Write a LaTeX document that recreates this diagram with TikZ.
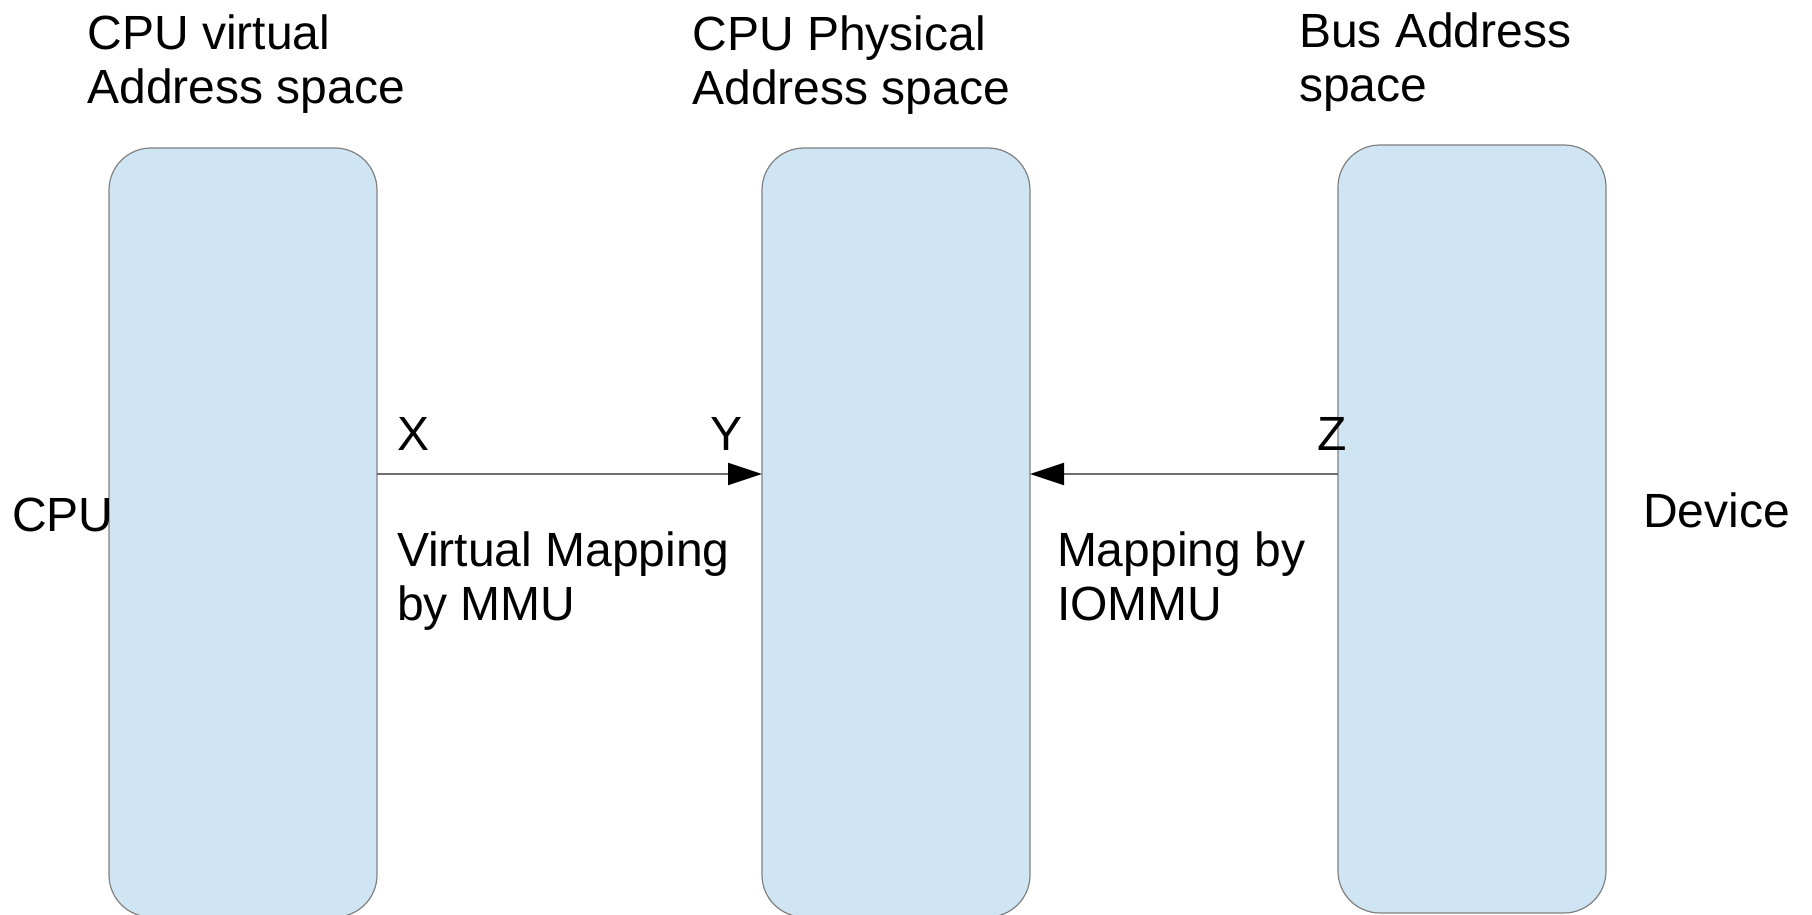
\documentclass[tikz,border=0pt]{standalone}
\usepackage{fontspec}
\setmainfont{Liberation Sans}
\usetikzlibrary{arrows.meta}
\definecolor{boxfill}{RGB}{207,229,243}
\definecolor{boxline}{RGB}{128,128,128}
\definecolor{arrline}{RGB}{110,110,110}
\newcommand\twoln[2]{\vtop{\hbox{#1}\hbox{#2}}}
\tikzset{
  spacebox/.style={draw=boxline, line width=0.6pt, fill=boxfill, rounded corners=21pt,
    minimum width=134pt, anchor=north west, inner sep=0pt, outer sep=0pt},
  title/.style={anchor=base west, inner sep=0pt, outer sep=0pt, font=\fontsize{24pt}{26.8pt}\selectfont},
  lbl/.style={anchor=base west, inner sep=0pt, outer sep=0pt, font=\fontsize{24pt}{27pt}\selectfont},
  maparrow/.style={draw=arrline, line width=1pt, -{Triangle[length=17pt,width=11pt,color=black,fill=black]}, shorten >=0pt},
}
\begin{document}
\begin{tikzpicture}[x=0.5pt,y=-0.5pt]
\useasboundingbox (0,0) rectangle (1812,915);
% boxes
\node[spacebox, minimum height=384.5pt] (b1) at (109,148) {};
\node[spacebox, minimum height=384.5pt] (b2) at (762,148) {};
\node[spacebox, minimum height=384pt] (b3) at (1338,145) {};
% titles
\node[title] (t1) at (87.5,49.5) {\twoln{CPU virtual}{Address space}};
\node[title] (t2) at (692.6,51) {\twoln{CPU Physical}{Address space}};
\node[title] (t3) at (1299,48) {\twoln{Bus Address}{space}};
% side labels
\node[lbl] (cpu) at (12,531.7) {CPU};
\node[lbl] (dev) at (1643,527.5) {Device};
% point labels
\node[lbl] (x) at (397.5,450.5) {X};
\node[lbl] (y) at (710,450.5) {Y};
\node[lbl] (z) at (1317,450) {Z};
% mapping labels
\node[lbl] (mmu) at (397,566) {\twoln{Virtual Mapping}{by MMU}};
\node[lbl] (iommu) at (1057,566) {\twoln{Mapping by}{IOMMU}};
% arrows
\coordinate (ay) at (0,474);
\draw[maparrow] (b1.east |- ay) -- (b2.west |- ay);
\draw[maparrow] (b3.west |- ay) -- (b2.east |- ay);
\end{tikzpicture}
\end{document}
